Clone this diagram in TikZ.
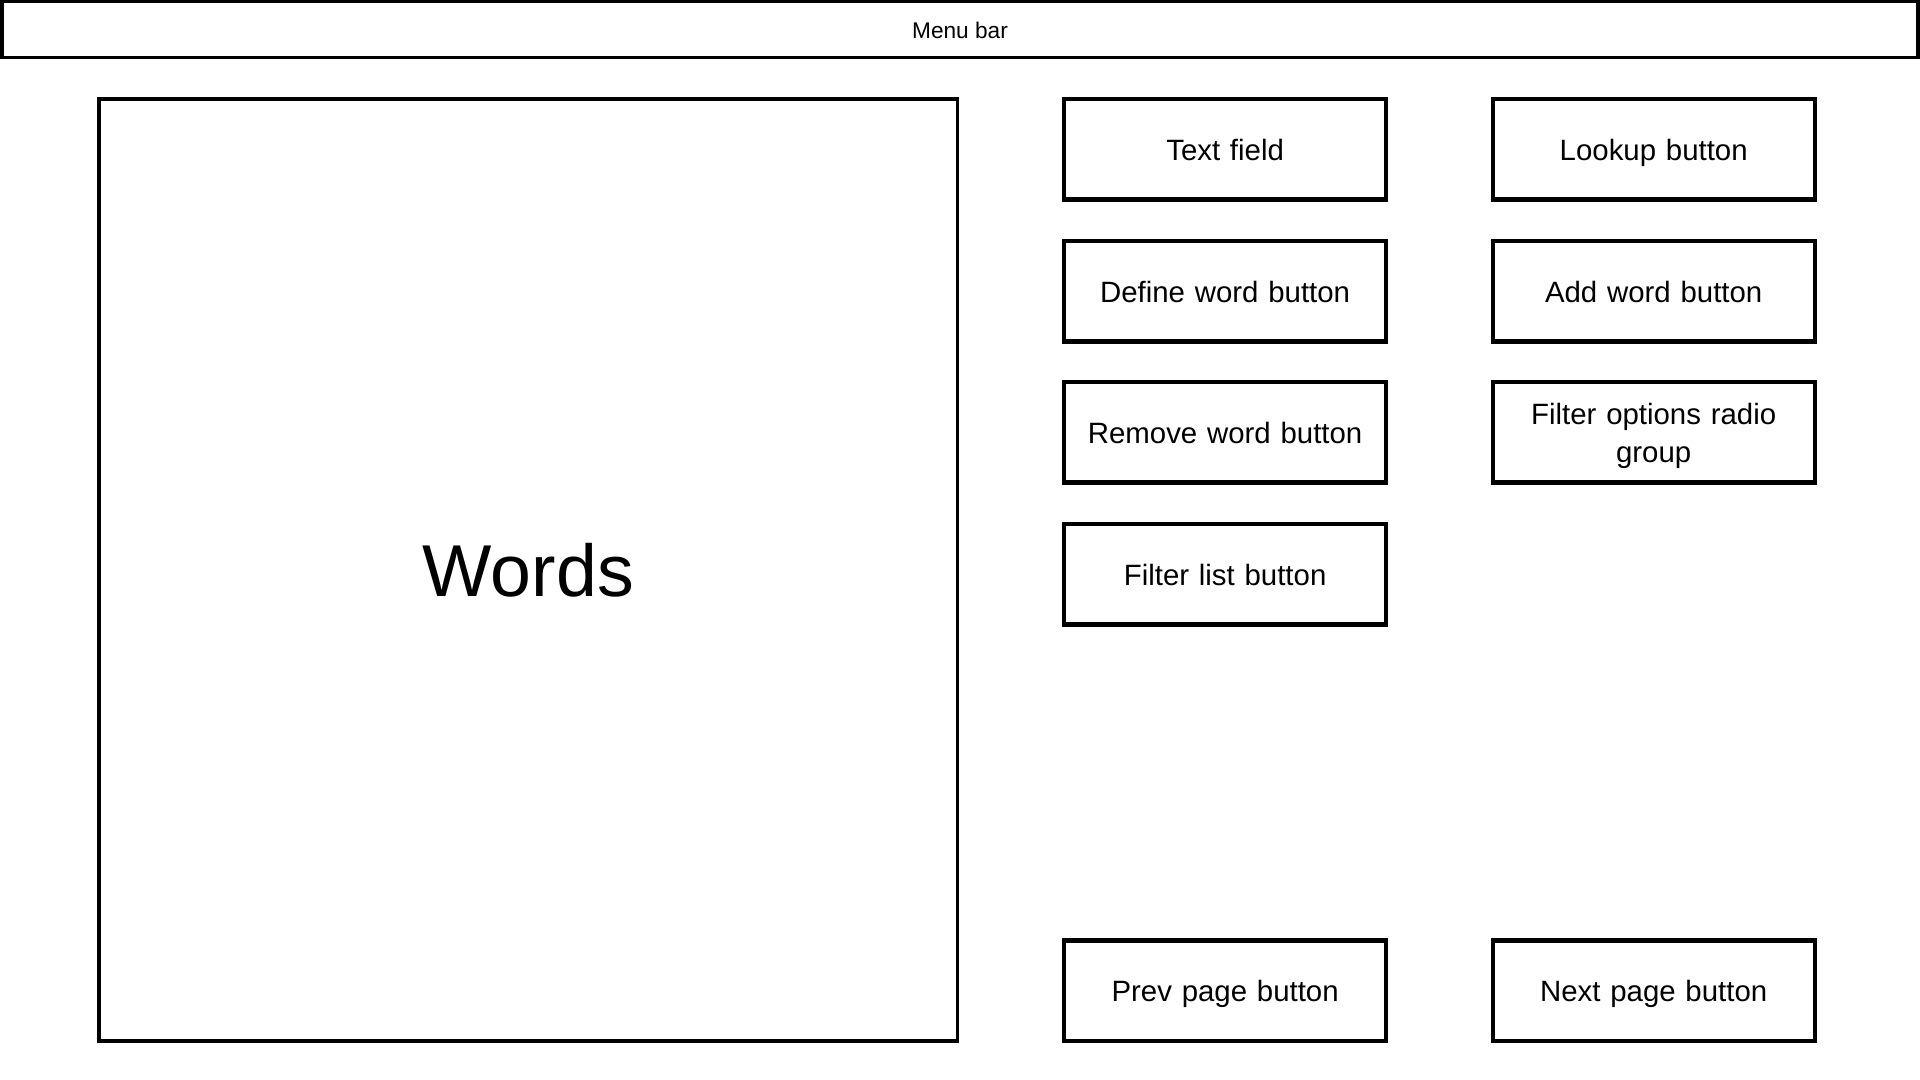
\documentclass[tikz,border=0pt]{standalone}
\usepackage{fontspec}
\setmainfont{Liberation Sans}
\newcommand{\bstrut}{\rule[-6.3pt]{0pt}{31pt}}
\newcommand{\mstrut}{\rule[-3.6pt]{0pt}{22pt}}
\begin{document}
\begin{tikzpicture}[x=1pt,y=-1pt,
  box/.style={draw=black,line width=3.5pt,fill=white,inner sep=0pt,align=center,
    font=\fontsize{24}{31}\selectfont},
  btn/.style={box,minimum width=263pt,minimum height=82pt,text width=240pt}]
\useasboundingbox[fill=white] (0,0) rectangle (1568,882);
\node[box,line width=3pt,font=\fontsize{18.5}{22}\selectfont,minimum width=1565pt,minimum height=46pt] (menu) at (784,24) {\mstrut Menu bar};
\node[box,line width=3pt,font=\fontsize{60}{70}\selectfont,minimum width=701pt,minimum height=769pt] (words) at (431.5,465.5) {Words};
\node[btn] (text) at (1000.5,122) {\bstrut Text field};
\node[btn] (lookup) at (1350.5,122) {\bstrut Lookup button};
\node[btn] (define) at (1000.5,238) {\bstrut Define word button};
\node[btn] (add) at (1350.5,238) {\bstrut Add word button};
\node[btn] (remove) at (1000.5,353) {\bstrut Remove word button};
\node[btn] (filteropt) at (1350.5,353) {\bstrut Filter options radio\\\bstrut group};
\node[btn] (filterlist) at (1000.5,469) {\bstrut Filter list button};
\node[btn] (prev) at (1000.5,809) {\bstrut Prev page button};
\node[btn] (next) at (1350.5,809) {\bstrut Next page button};
\end{tikzpicture}
\end{document}
